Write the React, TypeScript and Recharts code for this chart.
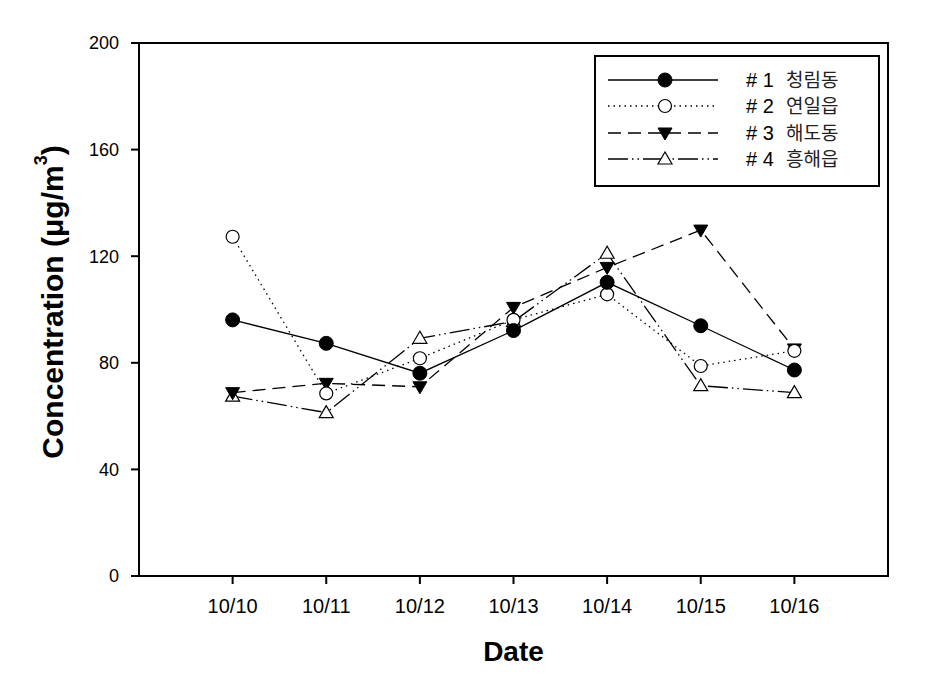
import React from "react"
import {
  Legend,
  Line,
  LineChart,
  ReferenceArea,
  XAxis,
  YAxis,
} from "recharts"

const DATES = ["10/10", "10/11", "10/12", "10/13", "10/14", "10/15", "10/16"]
const SITE_1 = [96.1, 87.3, 76.1, 92.1, 110.2, 93.9, 77.3]
const SITE_2 = [127.3, 68.5, 81.7, 96.1, 105.7, 78.8, 84.5]
const SITE_3 = [68.8, 72.3, 71.0, 100.8, 115.8, 129.8, 85.2]
const SITE_4 = [67.5, 61.3, 89.2, 95.5, 121.1, 71.4, 68.8]
const SITE_NAMES = ["청림동", "연일읍", "해도동", "흥해읍"]
const Y_TICKS = [0, 40, 80, 120, 160, 200]

const chartData = DATES.map((date, i) => ({
  x: i + 1,
  date,
  s1: SITE_1[i],
  s2: SITE_2[i],
  s3: SITE_3[i],
  s4: SITE_4[i],
}))

const FONT = "'Liberation Sans', Arial, sans-serif"
const KR_FONT = "'Noto Sans CJK KR', sans-serif"

const DASHES = ["", "1.5 4", "13 7", "20 4 1.5 4 1.5 4"]

type MarkerKind = "filledCircle" | "openCircle" | "downTri" | "upTri"
const MARKERS: MarkerKind[] = ["filledCircle", "openCircle", "downTri", "upTri"]

function Marker({ kind, cx, cy }: { kind: MarkerKind; cx: number; cy: number }) {
  if (kind === "filledCircle")
    return <circle cx={cx} cy={cy} r={7} fill="#000" stroke="#000" strokeWidth={1} />
  if (kind === "openCircle")
    return <circle cx={cx} cy={cy} r={6.5} fill="#fff" stroke="#000" strokeWidth={1.2} />
  if (kind === "downTri")
    return (
      <polygon
        points={`${cx - 7},${cy - 5} ${cx + 7},${cy - 5} ${cx},${cy + 7}`}
        fill="#000"
        stroke="#000"
        strokeWidth={1}
      />
    )
  return (
    <polygon
      points={`${cx},${cy - 7} ${cx - 7},${cy + 5} ${cx + 7},${cy + 5}`}
      fill="#fff"
      stroke="#000"
      strokeWidth={1.2}
    />
  )
}

const makeDot = (kind: MarkerKind) => (props: any) => {
  const { cx, cy, index } = props
  if (cx == null || cy == null) return <g key={`${kind}-${index}`} />
  return (
    <g key={`${kind}-${index}`}>
      <Marker kind={kind} cx={cx} cy={cy} />
    </g>
  )
}

function LegendBox() {
  const rows = [81, 107, 134, 160].map((y) => y - 56)
  return (
    <svg width={286} height={132} style={{ display: "block" }}>
      <rect x={1} y={1} width={284} height={130} fill="#fff" stroke="#000" strokeWidth={2} />
      {rows.map((y, i) => (
        <g key={i}>
          <line
            x1={14}
            x2={124}
            y1={y}
            y2={y}
            stroke="#000"
            strokeWidth={1.3}
            strokeDasharray={DASHES[i] || undefined}
          />
          <Marker kind={MARKERS[i]} cx={71} cy={y} />
          <text
            x={152}
            y={y + 7}
            fontFamily={FONT}
            fontSize={20}
            fill="#000"
          >
            {`# ${i + 1}`}
          </text>
          <text
            x={192}
            y={y + 7}
            fontFamily={KR_FONT}
            fontSize={19}
            fill="#222"
          >
            {SITE_NAMES[i]}
          </text>
        </g>
      ))}
    </svg>
  )
}

function YLabel() {
  const x = 52
  const y = 302
  return (
    <text
      x={x}
      y={y}
      transform={`rotate(-90 ${x} ${y})`}
      textAnchor="middle"
      dominantBaseline="central"
      fontFamily={FONT}
      fontSize={30}
      fontWeight="bold"
      fill="#000"
    >
      Concentration (μg/m
      <tspan dy={-11} fontSize={18}>
        3
      </tspan>
      <tspan dy={11}>)</tspan>
    </text>
  )
}

export default function App() {
  return (
    <div
      style={{
        position: "absolute",
        left: 0,
        top: 0,
        width: 929,
        height: 686,
        background: "#fff",
      }}
    >
      <LineChart
        width={929}
        height={686}
        data={chartData}
        margin={{ top: 43, right: 41, left: 79, bottom: 50 }}
      >
        <ReferenceArea
          x1={0}
          x2={8}
          y1={0}
          y2={200}
          fill="none"
          stroke="#000"
          strokeWidth={2}
          ifOverflow="visible"
        />
        <XAxis
          dataKey="x"
          type="number"
          domain={[0, 8]}
          ticks={[1, 2, 3, 4, 5, 6, 7]}
          tickFormatter={(v) => DATES[v - 1] ?? ""}
          height={60}
          tickSize={8}
          tickMargin={15}
          axisLine={{ stroke: "#000", strokeWidth: 2 }}
          tickLine={{ stroke: "#000", strokeWidth: 2 }}
          tick={{ fill: "#000", fontSize: 20, fontFamily: FONT }}
          label={{
            value: "Date",
            position: "bottom",
            offset: 5,
            style: { fontFamily: FONT, fontSize: 28, fontWeight: "bold", fill: "#000" },
          }}
        />
        <YAxis
          domain={[0, 200]}
          ticks={Y_TICKS}
          width={60}
          tickSize={8}
          tickMargin={12}
          axisLine={{ stroke: "#000", strokeWidth: 2 }}
          tickLine={{ stroke: "#000", strokeWidth: 2 }}
          tick={{ fill: "#000", fontSize: 18, fontFamily: FONT }}
          label={<YLabel />}
        />
        <Legend
          layout="vertical"
          align="center"
          verticalAlign="middle"
          content={() => <LegendBox />}
          wrapperStyle={{ position: "absolute", left: 594, top: 55, width: 286, height: 132 }}
        />
        <Line
          dataKey="s4"
          stroke="#000"
          strokeWidth={1.3}
          strokeDasharray={DASHES[3]}
          dot={makeDot("upTri")}
          activeDot={false}
          isAnimationActive={false}
        />
        <Line
          dataKey="s3"
          stroke="#000"
          strokeWidth={1.3}
          strokeDasharray={DASHES[2]}
          dot={makeDot("downTri")}
          activeDot={false}
          isAnimationActive={false}
        />
        <Line
          dataKey="s2"
          stroke="#000"
          strokeWidth={1.3}
          strokeDasharray={DASHES[1]}
          dot={makeDot("openCircle")}
          activeDot={false}
          isAnimationActive={false}
        />
        <Line
          dataKey="s1"
          stroke="#000"
          strokeWidth={1.3}
          dot={makeDot("filledCircle")}
          activeDot={false}
          isAnimationActive={false}
        />
      </LineChart>
    </div>
  )
}
